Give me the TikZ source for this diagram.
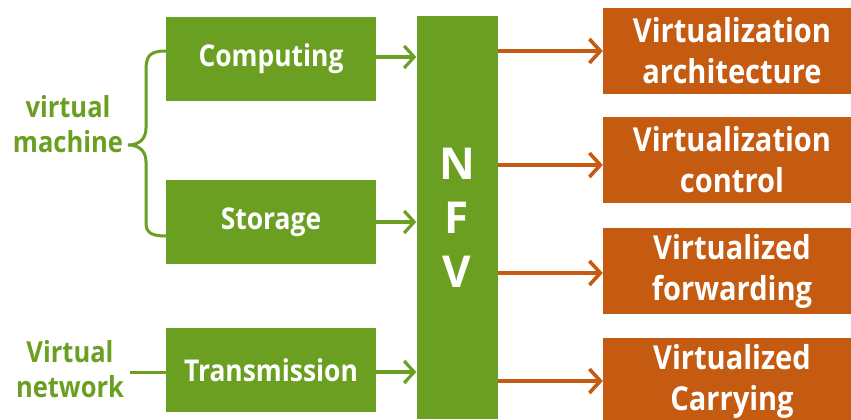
\documentclass[tikz,border=0pt]{standalone}
\usepackage{fontspec}
\setmainfont{Open Sans}
\newfontfamily\narrowfont[FakeStretch=0.88]{Open Sans}
\usetikzlibrary{arrows.meta,calc}
\definecolor{nfvgreen}{HTML}{6A9F22}
\definecolor{nfvorange}{HTML}{C55A11}
\begin{document}
\begin{tikzpicture}[x=1pt,y=-1pt,
  gbox/.style={fill=nfvgreen,draw=none,inner sep=0pt,text=white,
    font=\narrowfont\fontsize{30}{36}\selectfont\bfseries,align=center},
  obox/.style={fill=nfvorange,draw=none,inner sep=0pt,text=white,
    minimum width=258pt,minimum height=86pt,
    font=\narrowfont\fontsize{33}{41}\selectfont\bfseries,align=center},
  glabel/.style={text=nfvgreen,inner sep=0pt,align=center,
    font=\narrowfont\fontsize{29}{35}\selectfont\bfseries},
  garrow/.style={draw=nfvgreen,line width=3.2pt,
    -{Straight Barb[length=10pt,width=22pt,line width=3.2pt]}},
  oarrow/.style={draw=nfvorange,line width=3.6pt,
    -{Straight Barb[length=11pt,width=24pt,line width=3.6pt]}},
  gline/.style={draw=nfvgreen,line width=3pt}]
\useasboundingbox (0,0) rectangle (851,420);
\clip (0,0) rectangle (851,420);

% left column of resources
\node[gbox,minimum width=210pt,minimum height=84pt] (comp) at (271,59) {Computing};
\node[gbox,minimum width=210pt,minimum height=84pt] (stor) at (271,222) {Storage};
\node[gbox,minimum width=210pt,minimum height=84pt] (trans) at (271,370) {Transmission};

% central NFV bar
\node[gbox,minimum width=81pt,minimum height=403pt,
  font=\fontsize{44}{54}\selectfont\bfseries] (nfv) at (457,217.5) {N\\F\\V};

% right column of virtualized functions
\node[obox] (o1) at (732,51) {Virtualization\\architecture};
\node[obox] (o2) at (732,160) {Virtualization\\control};
\node[obox] (o3) at (732,271) {Virtualized\\forwarding};
\node[obox] (o4) at (732,381) {Virtualized\\Carrying};

% side labels
\node[glabel] (vm) at (68,124) {virtual\\machine};
\node[glabel] (vn) at (70,369) {Virtual\\network};
\coordinate (tip) at (128,145);

% brace grouping computing and storage
\draw[gline] ([yshift=8pt]comp.west)
  .. controls ++(-16,0) and (146,56) .. (146,70) -- (146,128)
  .. controls (146,140) and (138,145) .. (tip)
  .. controls (138,145) and (146,150) .. (146,162) -- (146,222)
  .. controls (146,232) and (150,236) .. ([yshift=-14pt]stor.west);
\draw[gline] (vn.east |- trans.west) ++(6,2) -- ([yshift=-2pt]trans.west);

% inputs to NFV
\draw[garrow] ([yshift=2pt]comp.east) -- ([yshift=2pt]comp.east -| nfv.west);
\draw[garrow] (stor.east) -- (stor.east -| nfv.west);
\draw[garrow] ([yshift=-2pt]trans.east) -- ([yshift=-2pt]trans.east -| nfv.west);

% outputs of NFV
\draw[oarrow] (nfv.east |- o1.west) -- (o1.west);
\draw[oarrow] ([yshift=-5pt]nfv.east |- o2.west) -- ([yshift=-5pt]o2.west);
\draw[oarrow] ([yshift=-2pt]nfv.east |- o3.west) -- ([yshift=-2pt]o3.west);
\draw[oarrow] (nfv.east |- o4.west) -- (o4.west);
\end{tikzpicture}
\end{document}
